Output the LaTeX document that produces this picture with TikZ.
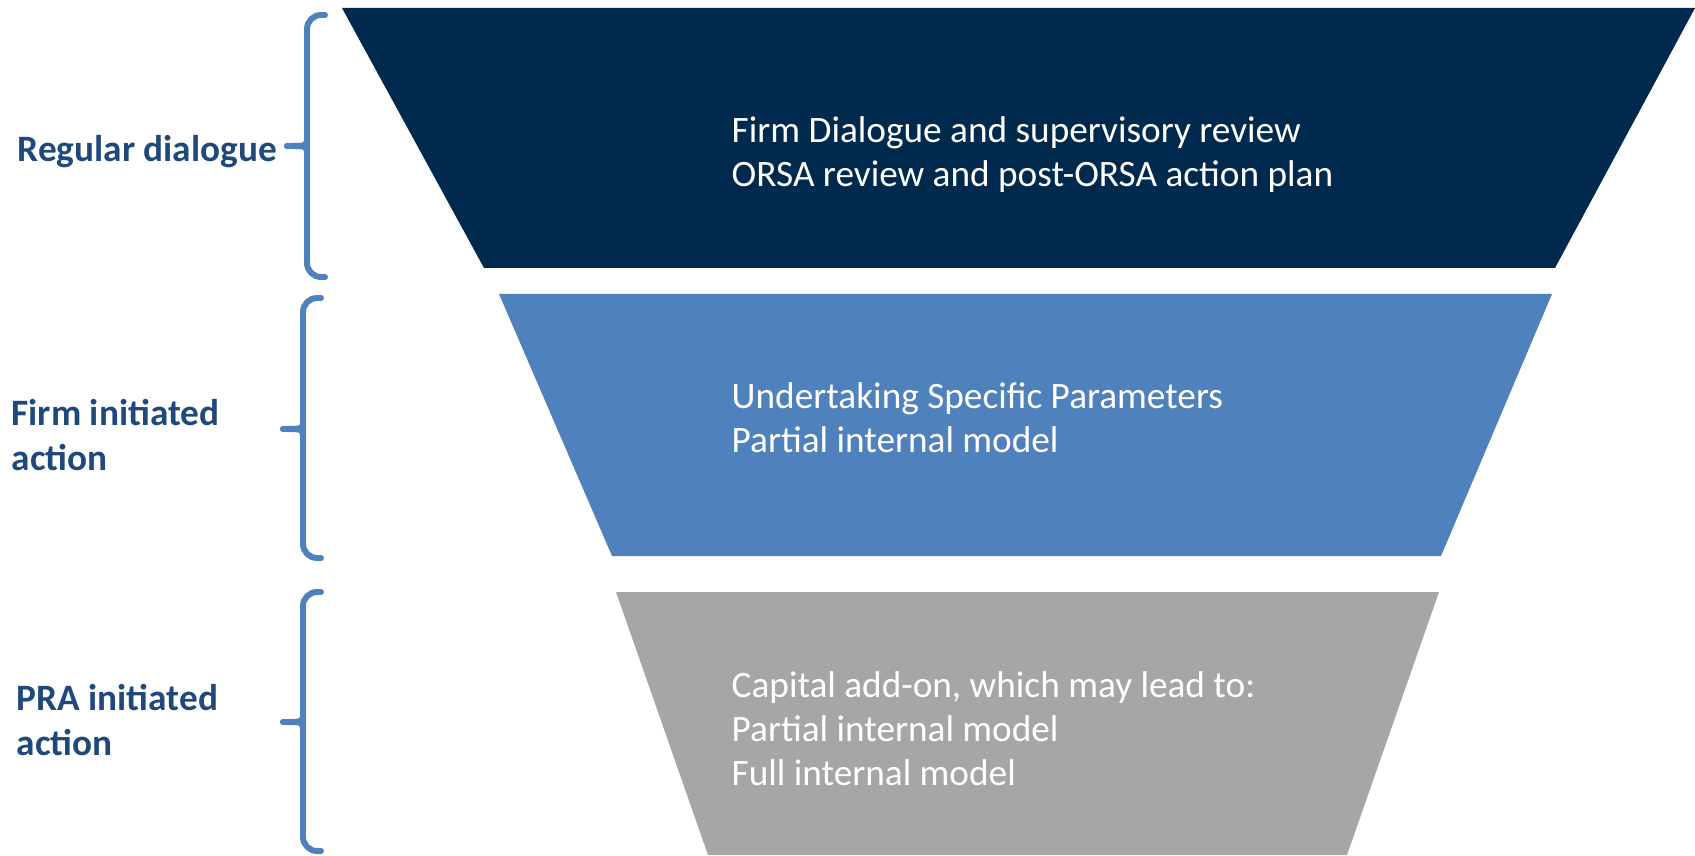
\documentclass[tikz,border=0pt]{standalone}
\usepackage{fontspec}
\setmainfont{Carlito}
\usetikzlibrary{positioning}

\definecolor{navy}{HTML}{002A4D}
\definecolor{midblue}{HTML}{4F81BD}
\definecolor{lightgrey}{HTML}{A6A6A6}
\definecolor{labelblue}{HTML}{1F497D}

\begin{document}
\begin{tikzpicture}[x=0.01cm,y=-0.01cm,
        stagetext/.style={text=white,anchor=west,align=left,inner sep=0pt,font=\fontsize{10.6}{12.5}\selectfont},
        sidelabel/.style={text=labelblue,anchor=west,align=left,inner sep=0pt,font=\bfseries\fontsize{10.6}{13}\selectfont},
        brace/.style={draw=midblue,line width=1.7pt,rounded corners=4pt,line cap=round,line join=round}]

  \useasboundingbox (0,0) rectangle (1695,855);

  % funnel stages
  \fill[navy] (342,8) -- (1695,8) -- (1555,268) -- (484,268) -- cycle;
  \fill[midblue] (499,294) -- (1552,294) -- (1441,556) -- (612,556) -- cycle;
  \fill[lightgrey] (616,592) -- (1439,592) -- (1347,855) -- (708,855) -- cycle;

  \node[stagetext] (dialogue) at (731,155) {Firm Dialogue and supervisory review\\ORSA review and post-ORSA action plan};
  \node[stagetext] (firm) at (731,418) {Undertaking Specific Parameters\\Partial internal model};
  \node[stagetext] (pra) at (731,729) {Capital add-on, which may lead to:\\Partial internal model\\Full internal model};

  % braces on the left
  \foreach \x/\t/\m/\b [count=\i] in {307/15/146/277, 303/298/429/558, 303/592/722/851}{
    \coordinate (tip\i) at (\x-20,\m);
    \draw[brace] (\x+18,\t) -- (\x,\t) -- (\x,\m-6) .. controls (\x,\m) .. (tip\i);
    \draw[brace] (tip\i) .. controls (\x,\m) .. (\x,\m+6) -- (\x,\b) -- (\x+18,\b);
  }

  \node[sidelabel] (regular) at (17,152) {Regular dialogue};
  \node[sidelabel] (firmaction) at (11,435) {Firm initiated\\action};
  \node[sidelabel] (praaction) at (16,720) {PRA initiated\\action};

\end{tikzpicture}
\end{document}
